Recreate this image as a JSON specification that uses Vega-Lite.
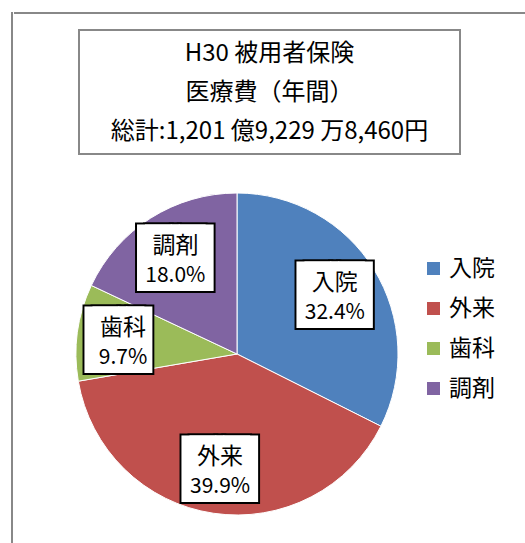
{
  "$schema": "https://vega.github.io/schema/vega-lite/v6.json",
  "background": "white",
  "padding": {"left": 11, "top": 12, "right": 0, "bottom": 0},
  "config": {"view": {"stroke": null}, "font": "Noto Sans CJK JP"},
  "spacing": 0,
  "hconcat": [
    {
      "width": 0.001, "height": 531,
      "view": {"stroke": "#888888", "strokeWidth": 2},
      "data": {"values": []},
      "mark": {"type": "text"},
      "encoding": {"text": {"value": ""}}
    },
    {
      "spacing": 0,
      "vconcat": [
        {
          "width": 509, "height": 0.001,
          "view": {"stroke": "#888888", "strokeWidth": 2},
          "data": {"values": []},
          "mark": {"type": "text"},
          "encoding": {"text": {"value": ""}}
        },
        {
          "width": 10, "height": 14,
          "data": {"values": []},
          "mark": {"type": "text"},
          "encoding": {"text": {"value": ""}}
        },
        {
          "spacing": 0,
          "hconcat": [
            {
              "width": 63, "height": 124,
              "data": {"values": []},
              "mark": {"type": "text"},
              "encoding": {"text": {"value": ""}}
            },
            {
              "width": 381, "height": 124,
              "view": {"stroke": "#888888", "strokeWidth": 2},
              "data": {"values": [{}]},
              "mark": {"type": "text", "font": "Noto Sans CJK JP", "fontSize": 24, "lineHeight": 39, "align": "center", "baseline": "middle", "dy": -38, "fill": "#000000"},
              "encoding": {"text": {"value": ["H30  被用者保険", "医療費（年間）", "総計:1,201 億9,229 万8,460円"]}}
            }
          ]
        },
        {
          "width": 444, "height": 398,
          "data": {"values": [
            {"cat": "入院", "share": 0.324},
            {"cat": "外来", "share": 0.399},
            {"cat": "歯科", "share": 0.097},
            {"cat": "調剤", "share": 0.180}
          ]},
          "encoding": {
            "theta": {"field": "share", "type": "quantitative", "stack": true},
            "order": {"field": "cat", "type": "ordinal"}
          },
          "layer": [
            {
              "mark": {"type": "arc", "outerRadius": 161, "stroke": "#ffffff", "strokeWidth": 1},
              "encoding": {
                "color": {
                  "field": "cat", "type": "nominal", "title": null,
                  "scale": {"domain": ["入院", "外来", "歯科", "調剤"], "range": ["#4F81BD", "#C0504D", "#9BBB59", "#8064A2"]},
                  "legend": {"orient": "none", "legendX": 410, "legendY": 244, "symbolType": "square", "symbolSize": 169, "symbolStrokeWidth": 0, "labelFontSize": 23, "labelFont": "Noto Sans CJK JP", "labelColor": "#000000", "rowPadding": 16, "labelOffset": 4}
                }
              }
            },
            {
              "mark": {"type": "text", "radius": 115, "dx": -4, "dy": 3, "font": "DejaVu Sans Mono", "fontSize": 56, "fill": "#000000", "stroke": "#000000", "strokeWidth": 4, "align": "center", "baseline": "middle"},
              "encoding": {"text": {"condition": {"test": "datum.cat === '歯科'", "value": "█▊"}, "value": "██"}}
            },
            {
              "mark": {"type": "text", "radius": 115, "dx": 4, "dy": 3, "font": "DejaVu Sans Mono", "fontSize": 56, "fill": "#000000", "stroke": "#000000", "strokeWidth": 4, "align": "center", "baseline": "middle"},
              "encoding": {"text": {"condition": {"test": "datum.cat === '歯科'", "value": "█▊"}, "value": "██"}}
            },
            {
              "mark": {"type": "text", "radius": 115, "dx": -4, "dy": 3, "font": "DejaVu Sans Mono", "fontSize": 56, "fill": "#ffffff", "align": "center", "baseline": "middle"},
              "encoding": {"text": {"condition": {"test": "datum.cat === '歯科'", "value": "█▊"}, "value": "██"}}
            },
            {
              "mark": {"type": "text", "radius": 115, "dx": 4, "dy": 3, "font": "DejaVu Sans Mono", "fontSize": 56, "fill": "#ffffff", "align": "center", "baseline": "middle"},
              "encoding": {"text": {"condition": {"test": "datum.cat === '歯科'", "value": "█▊"}, "value": "██"}}
            },
            {
              "mark": {"type": "text", "radius": 115, "dy": -11, "font": "Noto Sans CJK JP", "fontSize": 23, "fill": "#000000", "align": "center", "baseline": "middle"},
              "encoding": {"text": {"field": "cat", "type": "nominal"}}
            },
            {
              "mark": {"type": "text", "radius": 115, "dy": 19, "font": "Noto Sans CJK JP", "fontSize": 21, "fill": "#000000", "align": "center", "baseline": "middle"},
              "encoding": {"text": {"field": "share", "type": "quantitative", "format": ".1%"}}
            }
          ]
        }
      ]
    }
  ]
}
